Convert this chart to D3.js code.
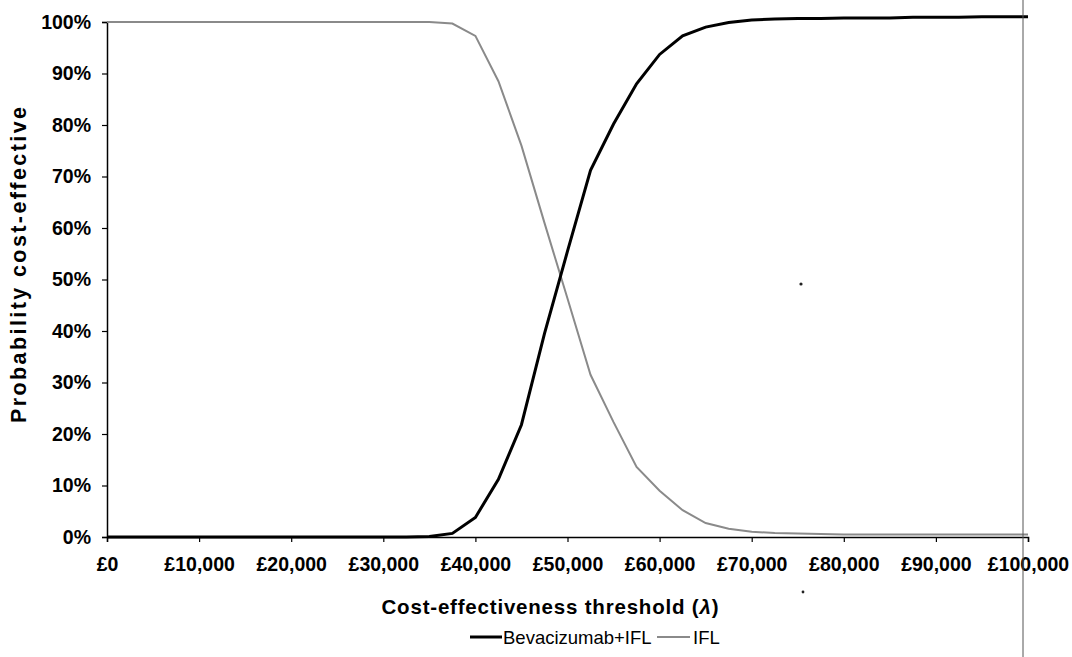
<!doctype html>
<html>
  <head>
    <script src="https://d3js.org/d3.v7.min.js"></script>
    <style>
      body { margin: 0; background: #fff; }
      text { font-family: "Liberation Sans", Arial, Helvetica, sans-serif; fill: #000; }
      .tick text { font-weight: bold; font-size: 19.5px; }
    </style>
  </head>
  <body>
    <div id="chart"></div>
    <script>
      // willingness-to-pay thresholds (£)
      var thresholds = [0, 2500, 5000, 7500, 10000, 12500, 15000, 17500, 20000, 22500,
                        25000, 27500, 30000, 32500, 35000, 37500, 40000, 42500, 45000, 47500,
                        50000, 52500, 55000, 57500, 60000, 62500, 65000, 67500, 70000, 72500,
                        75000, 77500, 80000, 82500, 85000, 87500, 90000, 92500, 95000, 97500, 100000];

      // probability cost-effective (%)
      var bevacizumab = [0, 0, 0, 0, 0, 0, 0, 0, 0, 0,
                         0, 0, 0, 0, 0.1, 0.7, 3.8, 11.2, 21.8, 39.5,
                         55.5, 71.2, 80.2, 88, 93.7, 97.3, 99, 99.9, 100.4, 100.6,
                         100.7, 100.7, 100.8, 100.8, 100.8, 100.9, 100.9, 100.9, 101, 101, 101];
      var ifl = [100, 100, 100, 100, 100, 100, 100, 100, 100, 100,
                 100, 100, 100, 100, 100, 99.7, 97.3, 88.5, 76, 61,
                 46.3, 31.5, 22.3, 13.6, 9, 5.2, 2.7, 1.6, 1.0, 0.8,
                 0.7, 0.6, 0.5, 0.5, 0.5, 0.5, 0.5, 0.5, 0.5, 0.5, 0.5];

      var xTicks = [0, 10000, 20000, 30000, 40000, 50000, 60000, 70000, 80000, 90000, 100000];
      var yTicks = [0, 10, 20, 30, 40, 50, 60, 70, 80, 90, 100];

      var width = 1072, height = 657;
      var plotLeft = 107, plotRight = 1028, plotTop = 22, plotBottom = 537;

      var svg = d3.select("#chart").append("svg")
        .attr("width", width)
        .attr("height", height);

      svg.append("rect").attr("width", width).attr("height", height).attr("fill", "#fff");

      var x = d3.scaleLinear().domain([0, 100000]).range([plotLeft, plotRight]);
      var y = d3.scaleLinear().domain([0, 100]).range([plotBottom, plotTop]);

      // axes
      svg.append("g")
        .attr("transform", "translate(" + plotLeft + ",0)")
        .call(d3.axisLeft(y).tickValues(yTicks).tickSize(5).tickPadding(11)
          .tickFormat(function(d) { return d + "%"; }));

      svg.append("g")
        .attr("transform", "translate(0," + plotBottom + ")")
        .call(d3.axisBottom(x).tickValues(xTicks).tickSize(5).tickPadding(15)
          .tickFormat(function(d) { return "£" + d3.format(",")(d); }));

      svg.selectAll(".domain").attr("stroke", "#000").attr("stroke-width", 1.5);
      svg.selectAll(".tick line").attr("stroke", "#000").attr("stroke-width", 1.2);

      // curves
      var line = d3.line()
        .x(function(d, i) { return x(thresholds[i]); })
        .y(function(d) { return y(d); });

      svg.append("path")
        .datum(ifl)
        .attr("d", line)
        .attr("fill", "none")
        .attr("stroke", "#8a8a8a")
        .attr("stroke-width", 2);

      svg.append("path")
        .datum(bevacizumab)
        .attr("d", line)
        .attr("fill", "none")
        .attr("stroke", "#000")
        .attr("stroke-width", 3);

      // axis titles
      var xTitle = svg.append("text")
        .attr("x", 550)
        .attr("y", 614)
        .attr("text-anchor", "middle")
        .attr("textLength", 337)
        .attr("lengthAdjust", "spacing")
        .style("font-weight", "bold")
        .style("font-size", "20.5px");
      xTitle.append("tspan").text("Cost-effectiveness threshold (");
      xTitle.append("tspan").style("font-style", "italic").text("λ");
      xTitle.append("tspan").text(")");

      svg.append("text")
        .attr("transform", "translate(26,265) rotate(-90)")
        .attr("text-anchor", "middle")
        .attr("textLength", 316)
        .attr("lengthAdjust", "spacing")
        .style("font-weight", "bold")
        .style("font-size", "21.5px")
        .text("Probability cost-effective");

      // legend
      var legend = svg.append("g").attr("transform", "translate(470,637)");
      legend.append("line").attr("x1", 0).attr("x2", 32).attr("y1", 0).attr("y2", 0)
        .attr("stroke", "#000").attr("stroke-width", 3);
      legend.append("text").attr("x", 33).attr("y", 7).style("font-size", "18.5px")
        .text("Bevacizumab+IFL");
      legend.append("line").attr("x1", 187).attr("x2", 220).attr("y1", 0).attr("y2", 0)
        .attr("stroke", "#8a8a8a").attr("stroke-width", 2);
      legend.append("text").attr("x", 223).attr("y", 7).style("font-size", "18.5px")
        .text("IFL");

      // scan artefacts: thin vertical rule at right and two specks
      svg.append("line")
        .attr("x1", 1023).attr("x2", 1023).attr("y1", 0).attr("y2", height)
        .attr("stroke", "#555").attr("stroke-width", 1);
      svg.append("circle").attr("cx", 801).attr("cy", 284).attr("r", 1.6).attr("fill", "#222");
      svg.append("circle").attr("cx", 803).attr("cy", 592).attr("r", 1.4).attr("fill", "#222");
    </script>
  </body>
</html>
